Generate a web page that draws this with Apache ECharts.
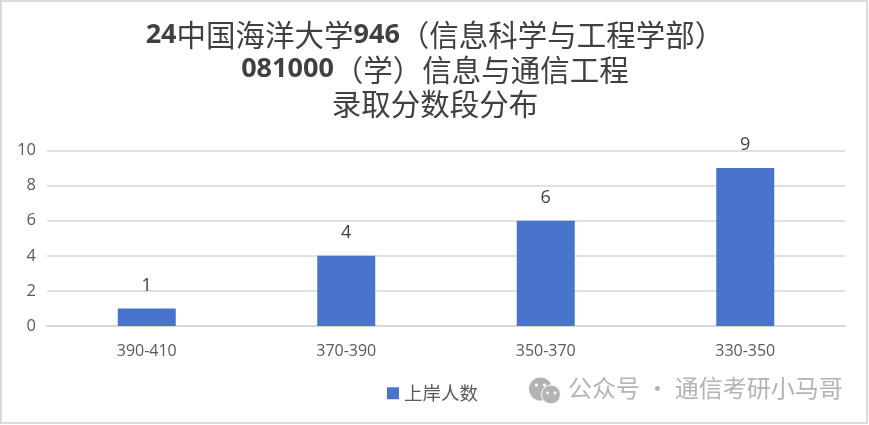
<!DOCTYPE html>
<html>
<head>
<meta charset="utf-8">
<style>
	html, body { margin: 0; padding: 0; background: #fff; }
	#main { width: 869px; height: 425px; }
</style>
<script src="https://cdn.jsdelivr.net/npm/echarts@6/dist/echarts.min.js"></script>
</head>
<body>
<div id="main"></div>
<script>
var categories = ["390-410", "370-390", "350-370", "330-350"];
var counts = [1, 4, 6, 9];
var yTicks = [0, 2, 4, 6, 8, 10];
var seriesName = "上岸人数";
var watermark = "公众号 · 通信考研小马哥";

var cjk = '"Noto Sans CJK SC", sans-serif';
var latin = '"Open Sans", sans-serif';

var myChart = echarts.init(document.getElementById("main"), null, {renderer: "canvas"});

myChart.setOption({
	animation: false,
	backgroundColor: "#fff",
	title: {
		text: "{d|24}{c|中国海洋大学}{d|946}{c|（信息科学与工程学部）}\n{d|081000}{c|（学）信息与通信工程}\n{c|录取分数段分布}",
		left: 430,
		top: 13,
		textAlign: "center",
		textStyle: {
			rich: {
				d: {fontFamily: latin, fontWeight: "bold", fontSize: 27, color: "#404040", lineHeight: 34.5},
				c: {fontFamily: cjk, fontWeight: "normal", fontSize: 29.5, color: "#404040", lineHeight: 34.5}
			}
		}
	},
	legend: {
		data: [seriesName],
		left: 382,
		top: 379,
		icon: "rect",
		itemWidth: 12,
		itemHeight: 12,
		itemGap: 13,
		textStyle: {fontFamily: cjk, fontSize: 18.5, color: "#595959"}
	},
	grid: {left: 47, right: 24, top: 150.5, bottom: 99},
	xAxis: {
		type: "category",
		data: categories,
		axisTick: {show: false},
		axisLine: {lineStyle: {color: "#d9d9d9", width: 2}},
		axisLabel: {fontFamily: latin, fontSize: 16, color: "#595959", margin: 17}
	},
	yAxis: {
		type: "value",
		min: yTicks[0],
		max: yTicks[yTicks.length - 1],
		interval: 2,
		axisLine: {show: false},
		axisTick: {show: false},
		axisLabel: {fontFamily: latin, fontSize: 16.5, color: "#595959", margin: 11, padding: [2, 0, 0, 0]},
		splitLine: {lineStyle: {color: "#e0e0e0", width: 2}}
	},
	series: [{
		name: seriesName,
		type: "bar",
		data: counts,
		barWidth: 58,
		itemStyle: {color: "#4874cb"},
		label: {
			show: true,
			position: "top",
			distance: 14,
			fontFamily: latin,
			fontSize: 18,
			color: "#404040"
		}
	}],
	graphic: [
		// outer frame of the screenshot
		{type: "rect", shape: {x: 1, y: 1, width: 866, height: 422}, style: {fill: "none", stroke: "#d9d9d9", lineWidth: 2}},
		// wechat logo next to the watermark
		{type: "circle", shape: {cx: 540.5, cy: 389, r: 11.5}, style: {fill: "#b3b3b3"}},
		{type: "circle", shape: {cx: 551, cy: 394.5, r: 9.5}, style: {fill: "#b3b3b3", stroke: "#fff", lineWidth: 1}},
		{type: "circle", shape: {cx: 536.5, cy: 385, r: 1.6}, style: {fill: "#fff"}},
		{type: "circle", shape: {cx: 544.5, cy: 385, r: 1.6}, style: {fill: "#fff"}},
		{type: "circle", shape: {cx: 547.5, cy: 393, r: 1.4}, style: {fill: "#fff"}},
		{type: "circle", shape: {cx: 555, cy: 393, r: 1.4}, style: {fill: "#fff"}},
		{type: "text", left: 568, top: 376, style: {text: watermark, fontFamily: cjk, fontSize: 24, fill: "#b3b3b3"}}
	]
});
</script>
</body>
</html>
